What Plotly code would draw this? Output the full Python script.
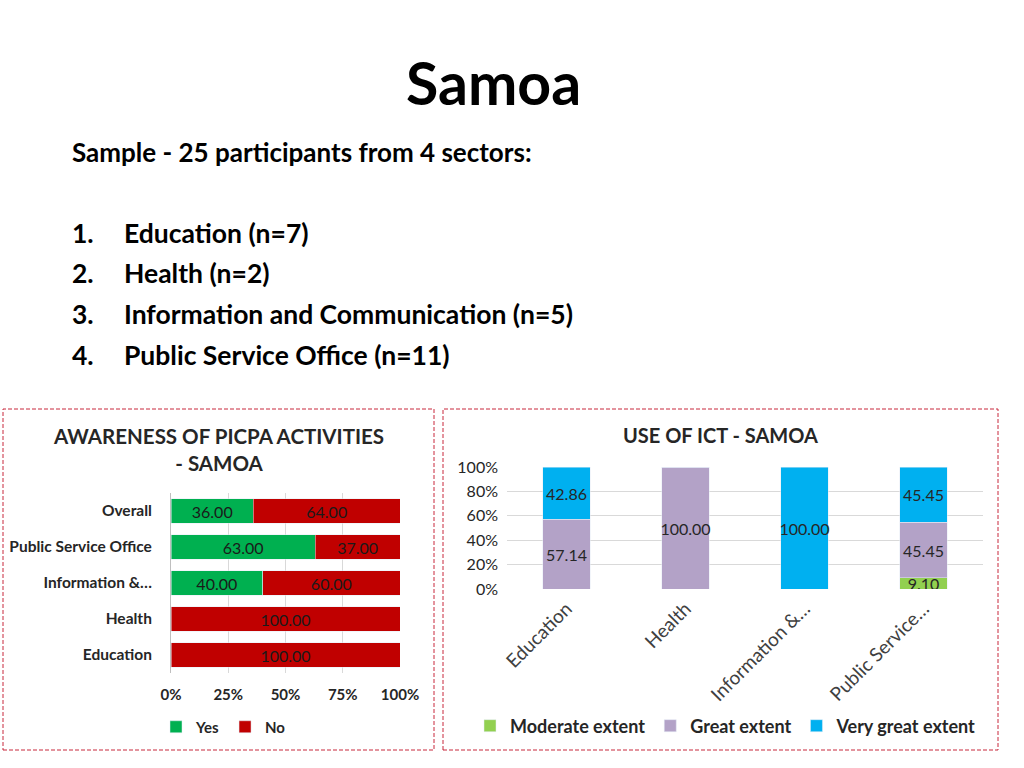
import plotly.graph_objects as go

# ---------- data ----------
aware_cats = ["Education", "Health", "Information &…", "Public Service Office", "Overall"]
aware_yes = [0, 0, 40.00, 63.00, 36.00]
aware_no = [100.00, 100.00, 60.00, 37.00, 64.00]
aware_ticks = [0, 25, 50, 75, 100]

ict_cats = ["Education", "Health", "Information &…", "Public Service…"]
ict_moderate = [0, 0, 0, 9.10]
ict_great = [57.14, 100.00, 0, 45.45]
ict_very = [42.86, 0, 100.00, 45.45]
ict_ticks = [0, 20, 40, 60, 80, 100]

sectors = ["Education (n=7)", "Health (n=2)", "Information and Communication (n=5)", "Public Service Office (n=11)"]

FONT = "Lato"
W, H = 1024, 768
def X(px): return px / W
def Y(py): return 1 - py / H

def lab(vals):
    return [f"{v:.2f}" if v else "" for v in vals]

fig = go.Figure()

# ---------- left chart ----------
for vals, name, col in [(aware_yes, "Yes", "#00B050"), (aware_no, "No", "#C00000")]:
    fig.add_trace(go.Bar(
        y=aware_cats, x=vals, orientation="h", name=name,
        marker_color=col, width=0.667,
        text=lab(vals), textposition="inside", insidetextanchor="middle",
        constraintext="none", textangle=0,
        textfont=dict(family=FONT, size=16, color="#1a1a1a"),
        xaxis="x", yaxis="y", legend="legend", hoverinfo="x+y"))

# ---------- right chart ----------
for vals, name, col in [(ict_moderate, "Moderate extent", "#92D050"),
                        (ict_great, "Great extent", "#B3A2C7"),
                        (ict_very, "Very great extent", "#00B0F0")]:
    fig.add_trace(go.Bar(
        x=ict_cats, y=vals, name=name, marker_color=col, width=0.4,
        text=lab(vals), textposition="inside", insidetextanchor="middle",
        constraintext="none", textangle=0,
        textfont=dict(family=FONT, size=16, color="#262626"),
        xaxis="x2", yaxis="y2", legend="legend2", hoverinfo="x+y"))

fig.update_layout(
    width=W, height=H, margin=dict(l=0, r=0, t=0, b=0, autoexpand=False),
    paper_bgcolor="white", plot_bgcolor="white",
    barmode="stack",
    font=dict(family=FONT, color="#262626"),
    xaxis=dict(domain=[X(171), X(400)], range=[0, 100], tickvals=aware_ticks,
               ticktext=[f"{t}%" for t in aware_ticks],
               showgrid=True, gridcolor="#D9D9D9", zeroline=False,
               tickfont=dict(family=FONT, size=15, color="#262626", weight="bold"),
               ticklabelstandoff=11, anchor="y", fixedrange=True),
    yaxis=dict(domain=[Y(673), Y(493)], showline=True, linecolor="#BFBFBF",
               tickfont=dict(family=FONT, size=15.5, color="#262626", weight="bold"),
               ticklabelstandoff=15, anchor="x", fixedrange=True),
    xaxis2=dict(domain=[X(507), X(983)], tickangle=-45,
                tickfont=dict(family=FONT, size=19, color="#404040"),
                ticklabelstandoff=4,
                showline=False, anchor="y2", fixedrange=True),
    yaxis2=dict(domain=[Y(589), Y(467)], range=[0, 100], tickvals=ict_ticks,
                ticktext=[f"{t}%" for t in ict_ticks],
                showgrid=True, gridcolor="#D9D9D9", zeroline=False,
                tickfont=dict(family=FONT, size=16, color="#262626"),
                ticklabelstandoff=8, anchor="x2", fixedrange=True),
    legend=dict(orientation="h", x=X(156), y=Y(727), xanchor="left", yanchor="middle",
                font=dict(family=FONT, size=15, color="#262626", weight="bold"),
                itemwidth=30, traceorder="normal", bgcolor="rgba(0,0,0,0)"),
    legend2=dict(orientation="h", x=X(470), y=Y(726), xanchor="left", yanchor="middle",
                 font=dict(family=FONT, size=18, color="#262626", weight="bold"),
                 itemwidth=30, traceorder="normal", bgcolor="rgba(0,0,0,0)"),
    showlegend=True,
)

shapes = []
for x0, x1 in [(3, 434), (443, 998)]:
    shapes.append(dict(type="rect", xref="paper", yref="paper",
                       x0=X(x0), x1=X(x1), y0=Y(750), y1=Y(409),
                       line=dict(color="#C8283C", width=1, dash="4px,2px")))
fig.update_layout(shapes=shapes)

ann = []
ann.append(dict(text="<b>Samoa</b>", x=X(493), y=Y(83), font=dict(size=59, color="#000000")))
ann.append(dict(text="<b>Sample - 25 participants from 4 sectors:</b>", x=X(70), y=Y(152),
                xanchor="left", font=dict(size=26, color="#000000")))
for i, (s, py) in enumerate(zip(sectors, [233, 273, 314, 355])):
    ann.append(dict(text=f"<b>{i+1}.</b>", x=X(70), y=Y(py), xanchor="left",
                    font=dict(size=26.5, color="#000000")))
    ann.append(dict(text=f"<b>{s}</b>", x=X(122), y=Y(py), xanchor="left",
                    font=dict(size=26.5, color="#000000")))
ann.append(dict(text="<b>AWARENESS OF PICPA ACTIVITIES<br>- SAMOA</b>", x=X(218), y=Y(449),
                font=dict(size=20.5, color="#262626")))
ann.append(dict(text="<b>USE OF ICT - SAMOA</b>", x=X(720), y=Y(435),
                font=dict(size=20, color="#262626")))
for a in ann:
    a.setdefault("xanchor", "center")
    a.update(xref="paper", yref="paper", yanchor="middle", showarrow=False)
    a["font"]["family"] = FONT
fig.update_layout(annotations=ann)

fig.write_html("out.html", config={"displayModeBar": False},
               post_script="document.body.style.margin='0';document.body.style.padding='0';")
